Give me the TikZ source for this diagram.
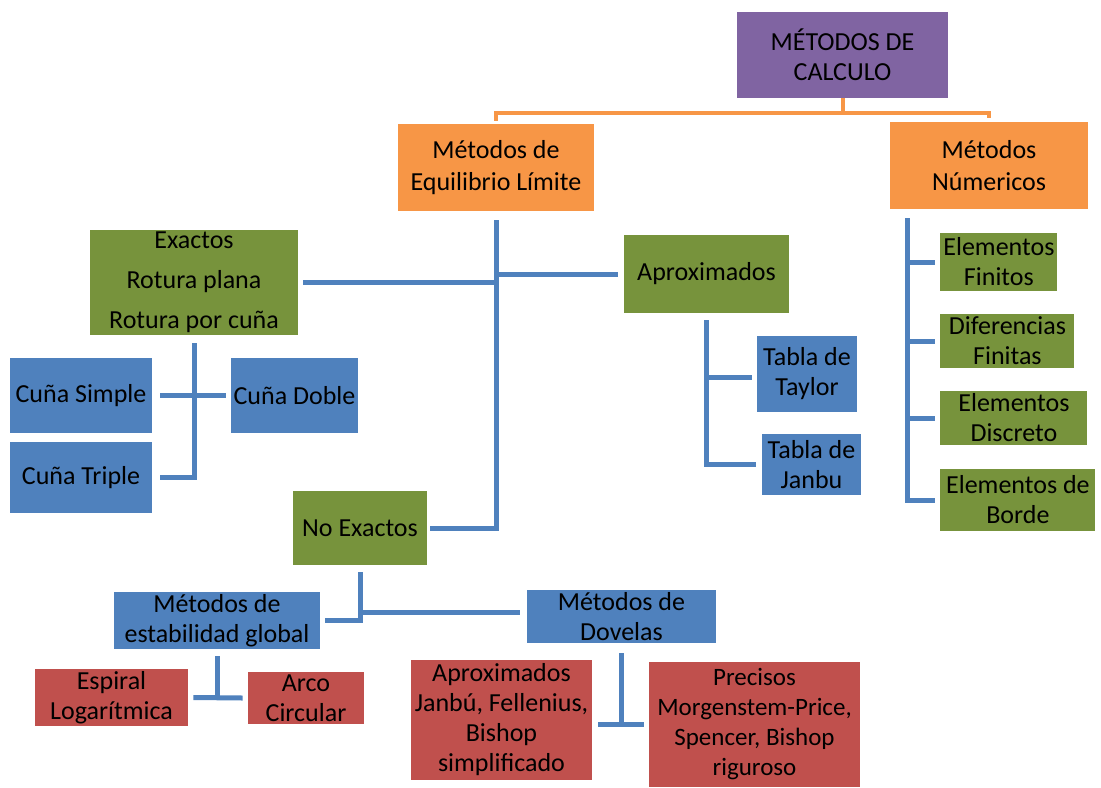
\documentclass[tikz,border=0pt]{standalone}
\usepackage{fontspec}
\setmainfont{Carlito}
\definecolor{morado}{HTML}{8064A2}
\definecolor{naranja}{HTML}{F79646}
\definecolor{verde}{HTML}{77933C}
\definecolor{azul}{HTML}{4F81BD}
\definecolor{rojo}{HTML}{C0504D}
\begin{document}
\begin{tikzpicture}[x=0.5pt, y=-0.5pt,
    caja/.style={rectangle, inner sep=1pt, align=center, font=\fontsize{13}{15}\selectfont},
    enlace/.style={draw=azul, line width=2.5pt},
    enlacen/.style={draw=naranja, line width=2pt}]
    \useasboundingbox (0,0) rectangle (1101,787);

    % nivel superior
    \node[caja, fill=morado, minimum width=105.5pt, minimum height=43pt] (calculo) at (842.5,55) {MÉTODOS DE\\CALCULO};
    \node[caja, fill=naranja, minimum width=98pt, minimum height=43.5pt, font=\fontsize{13}{16}\selectfont] (equil) at (496,167.5) {Métodos de\\Equilibrio Límite};
    \node[caja, fill=naranja, minimum width=99pt, minimum height=43.5pt, font=\fontsize{13}{16}\selectfont] (numer) at (989,165.5) {Métodos\\Númericos};
    \draw[enlacen] (calculo.south) -- ++(0,-7.5pt) coordinate (ob) -| ([yshift=1.5pt]equil.north);
    \draw[enlacen] (ob) -| ([yshift=2pt]numer.north);

    % equilibrio limite
    \node[caja, fill=verde, minimum width=104pt, minimum height=50.5pt] (exactos) at (194,282.5) {Exactos\\[5pt]Rotura plana\\[5pt]Rotura por cuña};
    \node[caja, fill=verde, minimum width=82.5pt, minimum height=39pt] (aprox) at (706.5,274) {Aproximados};
    \node[caja, fill=verde, minimum width=67pt, minimum height=37pt] (noexact) at (360,528) {No Exactos};
    \draw[enlace] ([yshift=-4.5pt]equil.south) |- ([xshift=1.5pt]noexact.east);
    \draw[enlace] ([xshift=2.5pt]exactos.east) -- (exactos.east -| equil.south);
    \draw[enlace] (aprox.west -| equil.south) -- ([xshift=-3pt]aprox.west);

    % cuñas
    \node[caja, fill=azul, minimum width=71pt, minimum height=37.5pt] (csimple) at (81,395.5) {Cuña Simple};
    \node[caja, fill=azul, minimum width=63.5pt, minimum height=37.5pt] (cdoble) at (294.5,395.5) {Cuña Doble};
    \node[caja, fill=azul, minimum width=71pt, minimum height=35.5pt] (ctriple) at (81,477.5) {Cuña Triple};
    \draw[enlace] ([yshift=-4pt]exactos.south) |- ([xshift=4pt]ctriple.east);
    \draw[enlace] ([xshift=4pt]csimple.east) -- ([xshift=-2.5pt]cdoble.west);

    % tablas
    \node[caja, fill=azul, minimum width=50pt, minimum height=38pt] (taylor) at (807,374) {Tabla de\\Taylor};
    \node[caja, fill=azul, minimum width=49.5pt, minimum height=30.5pt] (janbu) at (811.5,464.5) {Tabla de\\Janbu};
    \draw[enlace] ([yshift=-3.5pt]aprox.south) |- ([xshift=-3pt]janbu.west);
    \draw[enlace] ([yshift=-1.5pt]taylor.west -| aprox.south) -- ([xshift=-2.5pt,yshift=-1.5pt]taylor.west);

    % numericos
    \coordinate (nv) at ([xshift=9pt,yshift=-4.5pt]numer.south west);
    \foreach \n/\cy/\w/\h/\t in {efin/262/117/58/{Elementos\\Finitos},
                                 dfin/341/134/54/{Diferencias\\Finitas},
                                 edis/418/147/54/{Elementos\\Discreto},
                                 ebor/500/155/62/{Elementos de\\Borde}}
    {
        \node[caja, fill=verde, anchor=west, minimum width=\w*0.5pt, minimum height=\h*0.5pt] (\n) at (940,\cy) {\t};
    }
    \draw[enlace] (nv) |- ([xshift=-2.5pt]ebor.west);
    \foreach \n in {efin,dfin,edis}
        \draw[enlace] (\n.west -| nv) -- ([xshift=-2.5pt]\n.west);

    % no exactos
    \node[caja, fill=azul, minimum width=103pt, minimum height=27.5pt] (global) at (217,620.5) {Métodos de\\estabilidad global};
    \node[caja, fill=azul, minimum width=94.5pt, minimum height=23.5pt] (dovelas) at (621.5,616.5) {Métodos de\\Dovelas};
    \draw[enlace] ([yshift=-3.5pt]noexact.south) |- ([xshift=2.5pt]global.east);
    \draw[enlace] ([yshift=2pt]dovelas.west -| noexact.south) -- ([xshift=-3.5pt,yshift=2pt]dovelas.west);

    % rojos
    \node[caja, fill=rojo, minimum width=76.5pt, minimum height=27.5pt] (espiral) at (111.5,697.5) {Espiral\\Logarítmica};
    \node[caja, fill=rojo, minimum width=58pt, minimum height=26pt] (arco) at (306,698) {Arco\\Circular};
    \draw[enlace] ([yshift=-3.5pt]global.south) -- (global.south |- espiral.east);
    \draw[enlace] ([xshift=2.5pt]espiral.east) -- ([xshift=-2.5pt]arco.west);

    \node[caja, fill=rojo, minimum width=90.5pt, minimum height=60pt] (aproxj) at (501.5,720) {Aproximados\\Janbú, Fellenius,\\Bishop\\simplificado};
    \node[caja, fill=rojo, minimum width=105.5pt, minimum height=62.5pt, font=\fontsize{12.5}{15}\selectfont] (precisos) at (754.5,724.5) {Precisos\\Morgenstem-Price,\\Spencer, Bishop\\riguroso};
    \draw[enlace] ([yshift=-5pt]dovelas.south) -- (dovelas.south |- precisos.west);
    \draw[enlace] ([xshift=3pt]aproxj.east |- precisos.west) -- ([xshift=-2.5pt]precisos.west);

\end{tikzpicture}
\end{document}
